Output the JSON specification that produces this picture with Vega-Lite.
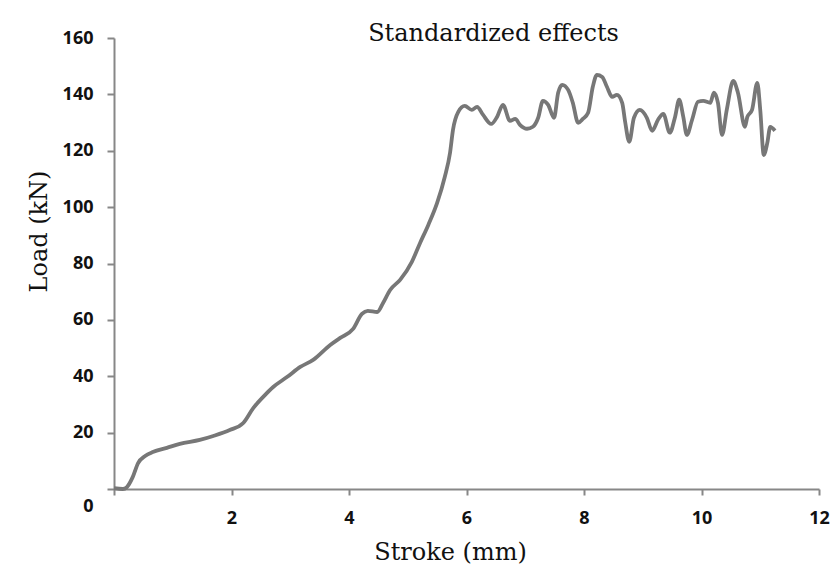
{
  "$schema": "https://vega.github.io/schema/vega-lite/v6.json",
  "width": 705,
  "height": 451,
  "autosize": "none",
  "padding": {"left": 114, "top": 38, "right": 13, "bottom": 77},
  "background": "white",
  "config": {"view": {"stroke": null}},
  "title": {
    "text": "Standardized effects",
    "font": "DejaVu Serif",
    "fontSize": 24,
    "fontWeight": "normal",
    "color": "#111111",
    "anchor": "middle",
    "frame": "group",
    "dx": 27,
    "baseline": "alphabetic",
    "offset": -36
  },
  "data": {
    "values": [
      {"stroke": 0.0, "load": 0.3},
      {"stroke": 0.15, "load": 0.0},
      {"stroke": 0.22, "load": 0.7},
      {"stroke": 0.32, "load": 4.3},
      {"stroke": 0.41, "load": 9.2},
      {"stroke": 0.53, "load": 11.7},
      {"stroke": 0.66, "load": 13.1},
      {"stroke": 0.9, "load": 14.6},
      {"stroke": 1.12, "load": 16.0},
      {"stroke": 1.46, "load": 17.4},
      {"stroke": 1.69, "load": 18.8},
      {"stroke": 1.97, "load": 20.9},
      {"stroke": 2.2, "load": 23.4},
      {"stroke": 2.37, "load": 28.7},
      {"stroke": 2.54, "load": 32.7},
      {"stroke": 2.71, "load": 36.2},
      {"stroke": 2.95, "load": 39.8},
      {"stroke": 3.17, "load": 43.3},
      {"stroke": 3.39, "load": 45.8},
      {"stroke": 3.68, "load": 51.1},
      {"stroke": 3.85, "load": 53.6},
      {"stroke": 4.07, "load": 56.8},
      {"stroke": 4.22, "load": 62.1},
      {"stroke": 4.32, "load": 63.2},
      {"stroke": 4.48, "load": 62.8},
      {"stroke": 4.58, "load": 66.0},
      {"stroke": 4.7, "load": 70.6},
      {"stroke": 4.87, "load": 74.2},
      {"stroke": 5.07, "load": 80.6},
      {"stroke": 5.21, "load": 87.3},
      {"stroke": 5.35, "load": 93.7},
      {"stroke": 5.5, "load": 101.5},
      {"stroke": 5.63, "load": 110.7},
      {"stroke": 5.72, "load": 119.3},
      {"stroke": 5.77, "load": 127.4},
      {"stroke": 5.86, "load": 133.8},
      {"stroke": 5.97, "load": 135.9},
      {"stroke": 6.09, "load": 134.5},
      {"stroke": 6.18, "load": 135.6},
      {"stroke": 6.28, "load": 132.8},
      {"stroke": 6.42, "load": 129.5},
      {"stroke": 6.52, "load": 132.0},
      {"stroke": 6.62, "load": 136.3},
      {"stroke": 6.74, "load": 130.6},
      {"stroke": 6.83, "load": 131.3},
      {"stroke": 6.91, "load": 129.2},
      {"stroke": 7.03, "load": 127.8},
      {"stroke": 7.13, "load": 128.5},
      {"stroke": 7.22, "load": 131.7},
      {"stroke": 7.3, "load": 137.7},
      {"stroke": 7.39, "load": 136.3},
      {"stroke": 7.49, "load": 131.7},
      {"stroke": 7.56, "load": 140.6},
      {"stroke": 7.63, "load": 143.4},
      {"stroke": 7.73, "load": 141.6},
      {"stroke": 7.81, "load": 137.0},
      {"stroke": 7.9, "load": 129.9},
      {"stroke": 7.98, "load": 131.3},
      {"stroke": 8.07, "load": 133.5},
      {"stroke": 8.15, "load": 142.7},
      {"stroke": 8.22, "load": 146.9},
      {"stroke": 8.31, "load": 146.2},
      {"stroke": 8.39, "load": 142.7},
      {"stroke": 8.48, "load": 139.1},
      {"stroke": 8.56, "load": 139.8},
      {"stroke": 8.65, "load": 137.0},
      {"stroke": 8.7, "load": 130.3},
      {"stroke": 8.77, "load": 123.2},
      {"stroke": 8.85, "load": 131.7},
      {"stroke": 8.95, "load": 134.5},
      {"stroke": 9.07, "load": 131.7},
      {"stroke": 9.16, "load": 127.1},
      {"stroke": 9.26, "load": 131.0},
      {"stroke": 9.35, "load": 133.1},
      {"stroke": 9.46, "load": 126.4},
      {"stroke": 9.55, "load": 132.0},
      {"stroke": 9.62, "load": 138.1},
      {"stroke": 9.69, "load": 132.0},
      {"stroke": 9.75, "load": 125.6},
      {"stroke": 9.84, "load": 131.0},
      {"stroke": 9.94, "load": 137.4},
      {"stroke": 10.03, "load": 137.7},
      {"stroke": 10.15, "load": 137.0},
      {"stroke": 10.21, "load": 140.6},
      {"stroke": 10.28, "load": 137.0},
      {"stroke": 10.35, "load": 125.6},
      {"stroke": 10.43, "load": 134.5},
      {"stroke": 10.54, "load": 144.8},
      {"stroke": 10.62, "load": 140.6},
      {"stroke": 10.74, "load": 128.5},
      {"stroke": 10.78, "load": 132.0},
      {"stroke": 10.86, "load": 134.5},
      {"stroke": 10.95, "load": 144.1},
      {"stroke": 11.0, "load": 134.5},
      {"stroke": 11.06, "load": 118.5},
      {"stroke": 11.12, "load": 122.8},
      {"stroke": 11.17, "load": 128.5},
      {"stroke": 11.25, "load": 127.1}
    ]
  },
  "mark": {"type": "line", "interpolate": "monotone", "color": "#777777", "strokeWidth": 3.8},
  "encoding": {
    "x": {
      "field": "stroke",
      "type": "quantitative",
      "scale": {"domain": [0, 12], "nice": false, "zero": false},
      "axis": {
        "title": "Stroke (mm)",
        "values": [0, 2, 4, 6, 8, 10, 12],
        "labelExpr": "datum.value == 0 ? '' : datum.label",
        "grid": false,
        "domainColor": "#878787",
        "domainWidth": 2,
        "tickColor": "#878787",
        "tickWidth": 2,
        "tickSize": 6,
        "labelFont": "Open Sans",
        "labelFontSize": 18,
        "labelFontWeight": "bold",
        "labelColor": "#111111",
        "labelPadding": 14,
        "labelFlush": false,
        "labelOverlap": false,
        "titleFont": "DejaVu Serif",
        "titleFontSize": 24,
        "titleFontWeight": "normal",
        "titleColor": "#111111",
        "titleX": 336,
        "titleY": 70,
        "titleBaseline": "alphabetic"
      }
    },
    "y": {
      "field": "load",
      "type": "quantitative",
      "scale": {"domain": [0, 160], "nice": false},
      "axis": {
        "title": "Load (kN)",
        "values": [0, 20, 40, 60, 80, 100, 120, 140, 160],
        "grid": false,
        "domainColor": "#878787",
        "domainWidth": 2,
        "tickColor": "#878787",
        "tickWidth": 2,
        "tickSize": 7,
        "labelFont": "Open Sans",
        "labelFontSize": 18,
        "labelFontWeight": "bold",
        "labelColor": "#111111",
        "labelPadding": 14,
        "labelFlush": false,
        "labelOverlap": false,
        "labelOffset": {"condition": {"test": "datum.value == 0", "value": 17}, "value": 0},
        "titleFont": "DejaVu Serif",
        "titleFontSize": 24,
        "titleFontWeight": "normal",
        "titleColor": "#111111",
        "titleX": -68,
        "titleY": 193,
        "titleBaseline": "alphabetic"
      }
    }
  }
}
